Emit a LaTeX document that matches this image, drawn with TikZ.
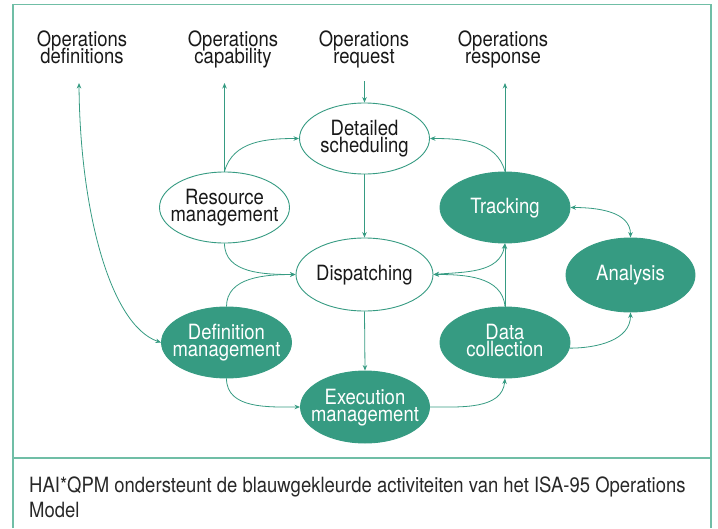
\documentclass[tikz,border=0pt]{standalone}
\usepackage{fontspec}
\setmainfont[FakeStretch=0.88]{TeX Gyre Heros}
\usetikzlibrary{shapes.geometric,arrows.meta}
\definecolor{isagreen}{RGB}{54,155,130}
\definecolor{framegreen}{RGB}{112,190,166}
\definecolor{txtc}{RGB}{25,25,25}
\definecolor{capc}{RGB}{40,40,40}
\newcommand\tstr{\rule{0pt}{16pt}}
\newcommand\bstr{\rule[-5pt]{0pt}{5pt}}
\newcommand\lblfont{\fontsize{21}{17}\selectfont}
\newcommand\capfont{\fontsize{21}{25}\selectfont}
\begin{document}
\setlength{\lineskiplimit}{-30pt}
\begin{tikzpicture}[x=1pt,y=1pt,
  ell/.style={ellipse, line width=0.9pt, minimum width=130pt, minimum height=71pt, inner sep=0pt},
  wnode/.style={ell, draw=isagreen, fill=white},
  gnode/.style={ell, draw=isagreen, fill=isagreen},
  lbl/.style={align=center, inner sep=0pt, text=txtc, font=\lblfont},
  wlbl/.style={lbl, text=white},
  caplbl/.style={align=left, inner sep=0pt, text=capc, font=\capfont},
  conn/.style={draw=isagreen, line width=0.8pt, -{Stealth[length=5.5pt,width=4.5pt]}},
  conn2/.style={draw=isagreen, line width=0.8pt, {Stealth[length=5.5pt,width=4.5pt]}-{Stealth[length=5.5pt,width=4.5pt]}},
  framel/.style={draw=framegreen, line width=1.3pt}
]
\useasboundingbox (0,0) rectangle (718,-528);
% frame
\draw[framel] (13,-528) -- (13,-4.5) -- (711,-4.5) -- (711,-528);
\draw[framel] (13,-458) -- (711,-458);

% top labels
\node[lbl, anchor=north] (odef) at (82,-30) {\tstr Operations\\definitions\bstr};
\node[lbl, anchor=north] (ocap) at (233,-30) {\tstr Operations\\capability\bstr};
\node[lbl, anchor=north] (oreq) at (364,-30) {\tstr Operations\\request\bstr};
\node[lbl, anchor=north] (ores) at (503,-30) {\tstr Operations\\response\bstr};
\coordinate (cdef) at (79,-83);
\coordinate (ccap) at (224.5,-83);
\coordinate (creq) at (364.5,-81);
\coordinate (cres) at (505,-83);

% ellipses
\node[wnode] (ds) at (364.5,-138.5) {};
\node[wnode] (rm) at (224.5,-207.5) {};
\node[gnode] (tr) at (505,-207.5) {};
\node[wnode, minimum width=137pt, minimum height=73pt] (dp) at (364.5,-274.5) {};
\node[gnode, minimum width=129pt, minimum height=74pt] (an) at (630.5,-275) {};
\node[gnode] (dm) at (226.5,-342.5) {};
\node[gnode] (dc) at (505,-342.5) {};
\node[gnode, minimum width=129pt, minimum height=72pt] (ex) at (365,-407) {};

\node[lbl] (dst) at (ds) {\tstr Detailed\\scheduling\bstr};
\node[lbl] (rmt) at (rm) {\tstr Resource\\management\bstr};
\node[wlbl] (trt) at (tr) {\tstr Tracking\bstr};
\node[lbl] (dpt) at (dp) {\tstr Dispatching\bstr};
\node[wlbl] (ant) at (an) {\tstr Analysis\bstr};
\node[wlbl] (dmt) at (dm) {\tstr Definition\\management\bstr};
\node[wlbl] (dct) at (dc) {\tstr Data\\collection\bstr};
\node[wlbl] (ext) at (ex) {\tstr Execution\\management\bstr};

% connectors
\draw[conn2] (dm.west) .. controls +(-51,17.5) and +(1,-127) .. (cdef);
\draw[conn] (rm.north) -- (ccap);
\draw[conn] (rm.north) to[out=75,in=180] (ds.west);
\draw[conn] (creq) -- (ds.north);
\draw[conn] (ds.south) -- (dp.north);
\draw[conn] (tr.north) -- (cres);
\draw[conn] (tr.north) to[out=105,in=0] (ds.east);
\draw[conn2] (tr.east) to[out=0,in=90] (an.north);
\draw[conn] (rm.south) to[out=-90,in=180] (dp.west);
\draw[conn] (dm.north) to[out=90,in=180] (dp.west);
\draw[conn] (dp.south) -- (ex.north);
\draw[conn] (dm.south) to[out=-90,in=180] (ex.west);
\draw[conn] (ex.east) to[out=0,in=-95] (dc.south);
\draw[conn] (dc.-5) to[out=0,in=-90] (an.south);
\draw[conn2] (dp.east) to[out=5,in=-100] (tr.south);
\draw[conn] (dc.north) to[out=95,in=0] (dp.east);
\draw[conn] (dc.north) -- (tr.south);

% caption
\node[caplbl, anchor=north west] (cap) at (29,-476) {\tstr HAI*QPM ondersteunt de blauwgekleurde activiteiten van het ISA-95 Operations\\Model};
\end{tikzpicture}
\end{document}
